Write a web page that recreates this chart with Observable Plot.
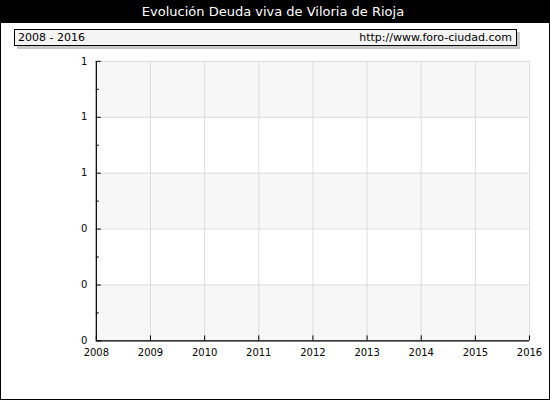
<!DOCTYPE html>
<html>
<head>
<meta charset="utf-8">
<script src="https://cdn.jsdelivr.net/npm/d3@7"></script>
<script src="https://cdn.jsdelivr.net/npm/@observablehq/plot@0.6"></script>
<style>
  html, body { margin: 0; padding: 0; background: #fff; }
  #frame { position: relative; width: 548px; height: 398px; border: 1px solid #000; overflow: hidden; font-family: "DejaVu Sans", Verdana, sans-serif; }
  #title { position: absolute; left: 0; top: 0; width: 544px; padding-right: 4px; height: 22px; background: #000; color: #fff; font-size: 13px; line-height: 22px; text-align: center; z-index: 2; }
  #info { position: absolute; left: 13px; top: 28px; width: 501px; height: 15px; background: #f4f4f4; border: 1px solid #000; box-shadow: 3px 3px 0 #c8c8c8; font-size: 11px; line-height: 15px; z-index: 2; }
  #info .l { position: absolute; left: 3px; top: 0; }
  #info .r { position: absolute; right: 4px; top: 0; }
  #chart { position: absolute; left: -1px; top: -1px; z-index: 1; }
</style>
</head>
<body>
<div id="frame">
  <div id="title"></div>
  <div id="info"><span class="l"></span><span class="r"></span></div>
  <div id="chart"></div>
</div>
<script>
const titleText = "Evolución Deuda viva de Viloria de Rioja";
const rangeText = "2008 - 2016";
const sourceText = "http://www.foro-ciudad.com";
const years = [2008, 2009, 2010, 2011, 2012, 2013, 2014, 2015, 2016];
const deuda = [null, null, null, null, null, null, null, null, null];
const yTicks = [0, 0.2, 0.4, 0.6, 0.8, 1];
const yMinorTicks = [0.1, 0.3, 0.5, 0.7, 0.9];
const bandLow = [0, 0.4, 0.8];
const bandHigh = [0.2, 0.6, 1];

document.getElementById("title").textContent = titleText;
document.querySelector("#info .l").textContent = rangeText;
document.querySelector("#info .r").textContent = sourceText;

const data = years.map((y, i) => ({year: y, value: deuda[i]}));
const bands = bandLow.map((lo, i) => ({y1: lo, y2: bandHigh[i]}));

const chart = Plot.plot({
  width: 550,
  height: 400,
  marginLeft: 96,
  marginRight: 20,
  marginTop: 61,
  marginBottom: 59,
  style: {fontFamily: "'DejaVu Sans', Verdana, sans-serif", fontSize: "10px", background: "transparent", color: "#000"},
  x: {domain: [2008, 2016], ticks: years, tickFormat: d3.format("d")},
  y: {domain: [0, 1]},
  marks: [
    Plot.rect(bands, {x1: 2008, x2: 2016, y1: "y1", y2: "y2", fill: "#f7f7f7"}),
    Plot.gridX(years, {stroke: "#dddddd", strokeOpacity: 1}),
    Plot.gridY(yTicks, {stroke: "#dddddd", strokeOpacity: 1}),
    Plot.line(data.filter(d => d.value != null), {x: "year", y: "value", stroke: "#1f77b4"}),
    Plot.ruleX([2008], {stroke: "#000", strokeWidth: 1.2}),
    Plot.ruleY([0], {stroke: "#000", strokeWidth: 1.2}),
    Plot.axisX(years, {tickSize: -5, tickPadding: 13, tickFormat: d3.format("d"), stroke: "#000", label: null}),
    Plot.axisY(yTicks, {tickSize: -5, tickPadding: 14, tickFormat: d3.format(".0f"), stroke: "#000", label: null}),
    Plot.axisY(yMinorTicks, {tickSize: -3, tickPadding: 0, tickFormat: () => "", stroke: "#000", label: null})
  ]
});
document.getElementById("chart").appendChild(chart);
</script>
</body>
</html>
